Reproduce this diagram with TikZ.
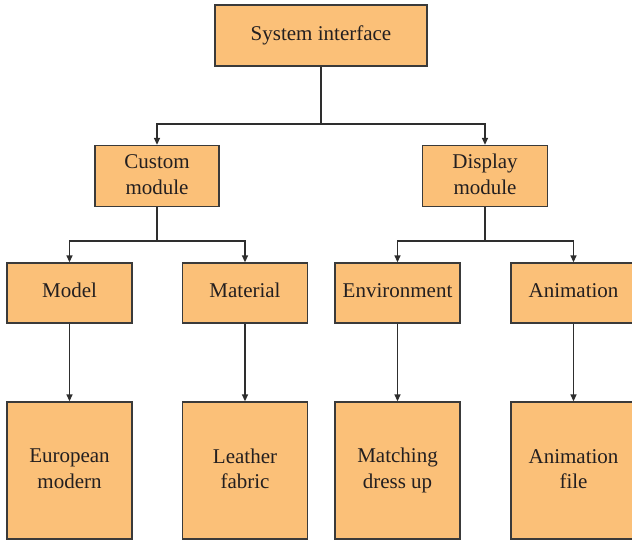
\documentclass[tikz,border=0pt]{standalone}
\usepackage{fontspec}
\setmainfont{Liberation Serif}
\usetikzlibrary{arrows.meta}
\definecolor{boxfill}{HTML}{FBC078}
\definecolor{boxline}{HTML}{3A3A3A}
\definecolor{inktext}{HTML}{231F20}
\tikzset{
  box/.style={draw=boxline, line width=1.3pt, fill=boxfill, text=inktext,
    align=center, inner sep=0pt, font=\fontsize{21}{25.5}\selectfont},
  % fixed struts so that every label sits at the same height in its box
  oneline/.style={box, execute at begin node=\rule[-8pt]{0pt}{25.85pt}},
  twoline/.style={box, execute at begin node=\rule{0pt}{17.85pt},
    execute at end node=\rule[-3.3pt]{0pt}{3.3pt}},
  midbox/.style={oneline, minimum width=125pt, minimum height=60pt},
  lowbox/.style={twoline, minimum width=125pt, minimum height=137pt},
  link/.style={draw=boxline!80!black, line width=1.4pt},
  arr/.style={link, -{Triangle[length=7pt,width=6pt]}}
}
\begin{document}
\begin{tikzpicture}[x=1pt,y=-1pt]
\useasboundingbox (0,0) rectangle (632,541);
\clip (0,0) rectangle (632,541);

% top level
\node[oneline, minimum width=212pt, minimum height=61pt] (top) at (321,35.5) {System interface};

% modules
\node[twoline, minimum width=124pt, minimum height=61pt] (custom) at (157,176) {Custom\\module};
\node[twoline, minimum width=125pt, minimum height=61pt] (display) at (485,176) {Display\\module};

% sub-modules
\node[midbox] (model) at (69.5,293) {Model};
\node[midbox] (material) at (245,293) {Material};
\node[midbox] (environment) at (397.5,293) {Environment};
\node[midbox] (animation) at (573.5,293) {Animation};

% contents
\node[lowbox] (european) at (69.5,470.5) {European\\modern};
\node[lowbox] (leather) at (245,470.5) {Leather\\fabric};
\node[lowbox] (matching) at (397.5,470.5) {Matching\\dress up};
\node[lowbox] (animfile) at (573.5,470.5) {Animation\\file};

% branch points
\coordinate (j0) at (top.south |- 0,124);
\coordinate (j1) at (custom.south |- 0,241);
\coordinate (j2) at (display.south |- 0,241);

% connectors
\draw[link] (top.south) -- (j0);
\draw[arr] (j0) -| (custom.north);
\draw[arr] (j0) -| (display.north);

\draw[link] (custom.south) -- (j1);
\draw[arr] (j1) -| (model.north);
\draw[arr] (j1) -| (material.north);

\draw[link] (display.south) -- (j2);
\draw[arr] (j2) -| (environment.north);
\draw[arr] (j2) -| (animation.north);

\draw[arr] (model.south) -- (european.north);
\draw[arr] (material.south) -- (leather.north);
\draw[arr] (environment.south) -- (matching.north);
\draw[arr] (animation.south) -- (animfile.north);
\end{tikzpicture}
\end{document}
